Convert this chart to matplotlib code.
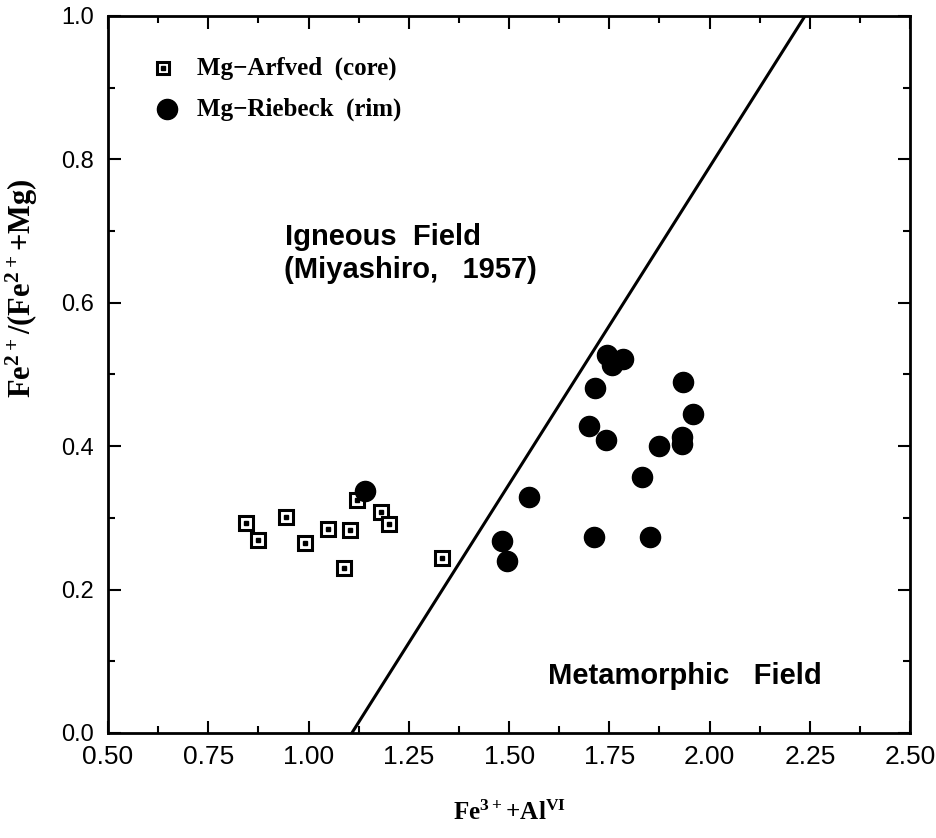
import matplotlib
matplotlib.use('Agg')
import matplotlib.pyplot as plt
from matplotlib.ticker import MultipleLocator

# Mg-arfvedsonite cores
core_x = [0.844, 0.874, 0.944, 0.991, 1.049, 1.103, 1.089, 1.121, 1.181, 1.201, 1.333]
core_y = [0.293, 0.269, 0.301, 0.265, 0.285, 0.283, 0.230, 0.325, 0.308, 0.291, 0.244]

# Mg-riebeckite rims
rim_x = [1.141, 1.744, 1.784, 1.757, 1.714, 1.934, 1.959, 1.700, 1.742, 1.931, 1.931,
         1.874, 1.832, 1.550, 1.483, 1.495, 1.712, 1.852]
rim_y = [0.3375, 0.527, 0.522, 0.513, 0.481, 0.490, 0.445, 0.428, 0.409, 0.413, 0.403,
         0.400, 0.357, 0.329, 0.268, 0.240, 0.273, 0.273]

# Miyashiro (1957) boundary
line_x = [1.108, 2.238]
line_y = [0.0, 1.0]

plt.rcParams['mathtext.default'] = 'regular'
sans = 'Liberation Sans'
serif = 'Liberation Serif'

fig = plt.figure(figsize=(9.37, 8.38), dpi=100)
ax = fig.add_axes([0.1153, 0.1253, 0.856, 0.8557])

ax.plot(line_x, line_y, color='black', lw=2.2)

ax.plot(core_x, core_y, 's', ms=10, mfc='white', mec='black', mew=2.2, ls='none')
ax.plot(core_x, core_y, 's', ms=2.5, mfc='black', mec='black', ls='none')
ax.plot(rim_x, rim_y, 'o', ms=14.5, color='black', ls='none')

# legend drawn by hand
ax.plot([0.637], [0.927], 's', ms=9, mfc='white', mec='black', mew=2.2)
ax.plot([0.637], [0.927], 's', ms=2.5, color='black')
ax.plot([0.647], [0.870], 'o', ms=14.5, color='black')
ax.text(0.722, 0.927, 'Mg\u2212Arfved  (core)', fontsize=18, family=serif, weight='bold', va='center')
ax.text(0.722, 0.870, 'Mg\u2212Riebeck  (rim)', fontsize=18, family=serif, weight='bold', va='center')

ax.text(1.186, 0.692, 'Igneous  Field', fontsize=21, family=sans, weight='bold', ha='center', va='center')
ax.text(1.253, 0.645, '(Miyashiro,   1957)', fontsize=21, family=sans, weight='bold', ha='center', va='center')
ax.text(1.939, 0.0795, 'Metamorphic   Field', fontsize=21, family=sans, weight='bold', ha='center', va='center')

ax.set_xlim(0.5, 2.5)
ax.set_ylim(0.0, 1.0)
ax.xaxis.set_major_locator(MultipleLocator(0.25))
ax.xaxis.set_minor_locator(MultipleLocator(0.125))
ax.yaxis.set_major_locator(MultipleLocator(0.2))
ax.yaxis.set_minor_locator(MultipleLocator(0.1))
ax.xaxis.set_major_formatter(plt.FormatStrFormatter('%.2f'))
ax.yaxis.set_major_formatter(plt.FormatStrFormatter('%.1f'))
ax.tick_params(which='both', direction='in', top=True, right=True, width=1.5)
ax.tick_params(which='major', length=9)
ax.tick_params(which='minor', length=5)
ax.tick_params(axis='x', which='major', labelsize=19, pad=9)
ax.tick_params(axis='y', which='major', labelsize=17, pad=10)
for lab in ax.get_xticklabels() + ax.get_yticklabels():
    lab.set_family(sans)
for s in ax.spines.values():
    s.set_linewidth(2)

ax.set_xlabel('Fe$^{3+}$+Al$^{VI}$', fontsize=18, family=serif, weight='bold')
ax.xaxis.set_label_coords(0.501, -0.095)
ax.set_ylabel('Fe$^{2+}$/(Fe$^{2+}$+Mg)', fontsize=22, family=serif, weight='bold')
ax.yaxis.set_label_coords(-0.085, 0.62)

plt.savefig('out.png', dpi=100)
